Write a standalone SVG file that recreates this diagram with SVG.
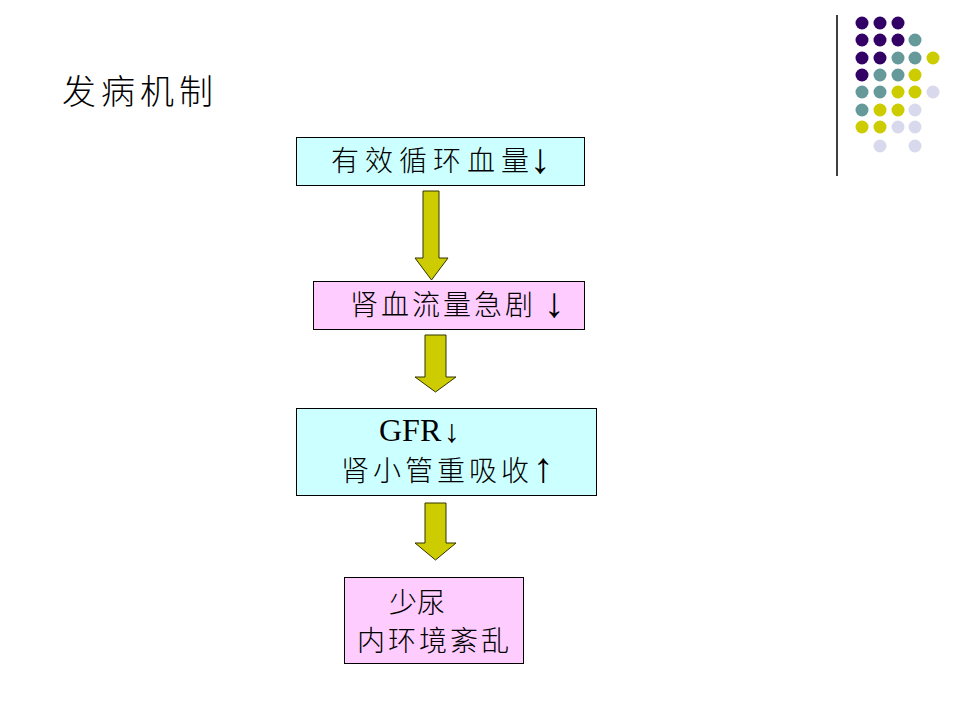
<svg xmlns="http://www.w3.org/2000/svg" width="960" height="720" viewBox="0 0 960 720">
<style>
.cyan{fill:#CCFFFF;stroke:#000;stroke-width:1}
.pink{fill:#FFCCFF;stroke:#000;stroke-width:1}
.cjk{font-family:"Noto Sans CJK SC","Noto Sans CJK TC",sans-serif;font-size:28px;fill:#000;font-weight:300}
.ar{font-family:"Liberation Serif",serif;font-size:42px;fill:#000;text-anchor:middle}
.rom{font-family:"Liberation Serif",serif;font-size:32px;fill:#000}
.bigarrow{fill:#CCCC00;stroke:#333300;stroke-width:1}
.p{fill:#330066}.t{fill:#669999}.y{fill:#CCCC00}.l{fill:#D9D9EE}
</style>
<rect width="960" height="720" fill="#fff"/>
<g id="decoration">
<line x1="837" y1="15" x2="837" y2="176" stroke="#000" stroke-width="1.5"/>
<circle class="p" cx="862" cy="23" r="6.5"/><circle class="p" cx="880" cy="23" r="6.5"/><circle class="p" cx="898" cy="23" r="6.5"/>
<circle class="p" cx="862" cy="40" r="6.5"/><circle class="p" cx="880" cy="40" r="6.5"/><circle class="p" cx="898" cy="40" r="6.5"/><circle class="t" cx="915" cy="40" r="6.5"/>
<circle class="p" cx="862" cy="58" r="6.5"/><circle class="p" cx="880" cy="58" r="6.5"/><circle class="t" cx="898" cy="58" r="6.5"/><circle class="t" cx="915" cy="58" r="6.5"/><circle class="y" cx="933" cy="58" r="6.5"/>
<circle class="p" cx="862" cy="75" r="6.5"/><circle class="t" cx="880" cy="75" r="6.5"/><circle class="t" cx="898" cy="75" r="6.5"/><circle class="y" cx="915" cy="75" r="6.5"/>
<circle class="t" cx="862" cy="92" r="6.5"/><circle class="t" cx="880" cy="92" r="6.5"/><circle class="y" cx="898" cy="92" r="6.5"/><circle class="y" cx="915" cy="92" r="6.5"/><circle class="l" cx="933" cy="92" r="6.5"/>
<circle class="t" cx="862" cy="110" r="6.5"/><circle class="y" cx="880" cy="110" r="6.5"/><circle class="y" cx="898" cy="110" r="6.5"/><circle class="l" cx="915" cy="110" r="6.5"/>
<circle class="y" cx="862" cy="127" r="6.5"/><circle class="y" cx="880" cy="127" r="6.5"/><circle class="l" cx="898" cy="127" r="6.5"/><circle class="l" cx="915" cy="127" r="6.5"/>
<circle class="l" cx="880" cy="146" r="6.5"/><circle class="l" cx="915" cy="146" r="6.5"/>
</g>
<g id="title">
<text class="cjk" x="62 101 140 179" y="104" style="font-size:34px">发病机制</text>
</g>
<g id="connectors">
<polygon class="bigarrow" points="423,191 439,191 439,258 448,258 431.5,280 415,258 423,258"/>
<polygon class="bigarrow" points="425,335 446,335 446,377 456,377 435.5,392 415,377 425,377"/>
<polygon class="bigarrow" points="425,503 446,503 446,543 456,543 435.5,560 415,543 425,543"/>
</g>
<g id="node1">
<rect class="cyan" x="296.5" y="137.5" width="288" height="48"/>
<text class="cjk" x="331 365 399 433 467 501" y="171">有效循环血量</text>
<text class="ar" x="540" y="173">↓</text>
</g>
<g id="node2">
<rect class="pink" x="313.5" y="281.5" width="271" height="48"/>
<text class="cjk" x="350 381 412 443 474 505" y="315">肾血流量急剧</text>
<text class="ar" x="554" y="317">↓</text>
</g>
<g id="node3">
<rect class="cyan" x="296.5" y="408.5" width="300" height="87"/>
<text class="rom" x="379" y="441">GFR</text>
<text class="ar" x="452" y="442" style="font-size:32px">↓</text>
<text class="cjk" x="341 373 405 437 469 501" y="481">肾小管重吸收</text>
<text class="ar" x="543" y="482">↑</text>
</g>
<g id="node4">
<rect class="pink" x="344.5" y="577.5" width="179" height="86"/>
<text class="cjk" x="389 417" y="613">少尿</text>
<text class="cjk" x="357 388 419 450 481" y="651">内环境紊乱</text>
</g>
</svg>
